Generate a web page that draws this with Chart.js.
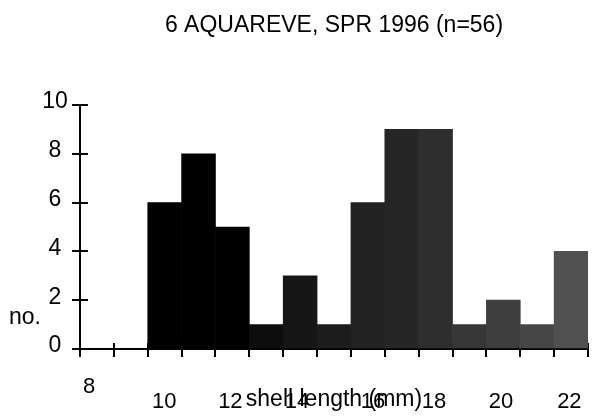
<!DOCTYPE html>
<html><head><meta charset="utf-8">
<script src="https://cdn.jsdelivr.net/npm/chart.js@4/dist/chart.umd.min.js"></script>
<style>html,body{margin:0;padding:0;background:#fff;} #wrap{width:592px;height:417px;position:relative;}</style>
</head><body><div id="wrap"><canvas id="c"></canvas></div>
<script>
// ---- data ----
const chartTitle = '6 AQUAREVE, SPR 1996 (n=56)';
const binStarts = [8, 9, 10, 11, 12, 13, 14, 15, 16, 17, 18, 19, 20, 21, 22]; // shell length bins (mm)
const counts    = [0, 0, 6, 8, 5, 1, 3, 1, 6, 9, 9, 1, 2, 1, 4];
const yTickValues = [0, 2, 4, 6, 8, 10];
const xTickLabels = ['8', '10', '12', '14', '16', '18', '20', '22'];
const xTickLabelValues = [8.27, 10.49, 12.44, 14.41, 16.65, 18.45, 20.43, 22.45];
const xTitle = 'shell length (mm)';
const yTitle = 'no.';
const yTitleValue = 1.27;

// ---- styles ----
const barColors = ['#000','#000','#000','#000','#000','#0d0d0d','#161616','#1c1c1c','#222222','#262626','#2e2e2e','#363636','#3e3e3e','#464646','#505050'];
const FONT = 'Liberation Sans';

const binEdges = binStarts.concat([binStarts[binStarts.length - 1] + 1]);
const xMin = binEdges[0], xMax = binEdges[binEdges.length - 1];

Chart.defaults.font.family = FONT;
Chart.defaults.color = '#000';

const noPad = s => { s.paddingLeft = 0; s.paddingRight = 0; };

new Chart(document.getElementById('c'), {
  type: 'bar',
  data: {
    datasets: [{
      data: binStarts.map((b, i) => ({ x: b + 0.5, y: counts[i] })),
      backgroundColor: barColors,
      borderWidth: 0,
      barPercentage: 1,
      categoryPercentage: 1,
      xAxisID: 'x',
      yAxisID: 'y'
    }]
  },
  options: {
    responsive: true,
    maintainAspectRatio: false,
    devicePixelRatio: 1,
    animation: false,
    layout: { autoPadding: false, padding: { left: 0, right: 4, top: 0, bottom: 0 } },
    plugins: {
      legend: { display: false },
      tooltip: { enabled: false },
      title: {
        display: true, text: chartTitle, fullSize: false, color: '#000',
        font: { size: 23, weight: 'normal' },
        padding: { top: 11.5, bottom: 65.9 }
      }
    },
    scales: {
      x: {
        type: 'linear', axis: 'x', position: 'bottom', weight: 0,
        min: xMin, max: xMax, offset: false,
        afterBuildTicks: s => { s.ticks = binEdges.map(v => ({ value: v })); },
        afterFit: noPad,
        ticks: { display: false },
        grid: { offset: false, drawOnChartArea: false, drawTicks: true, tickLength: 8, lineWidth: 2, color: '#000' },
        border: { display: true, color: '#000', width: 2 }
      },
      x2: {
        type: 'linear', axis: 'x', position: 'bottom', weight: 1,
        min: xMin, max: xMax, offset: false,
        afterBuildTicks: s => { s.ticks = xTickLabelValues.map(v => ({ value: v })); },
        afterFit: s => { s.height = 60; noPad(s); },
        ticks: {
          autoSkip: false, maxRotation: 0, minRotation: 0, padding: 22, color: '#000',
          font: { size: 22, lineHeight: 15 / 22 },
          callback: (v, i) => i === 0 ? xTickLabels[0] : ['', xTickLabels[i]]
        },
        grid: { display: false, drawTicks: false, offset: false },
        border: { display: false },
        title: { display: true, text: xTitle, color: '#000', font: { size: 23 }, padding: { top: 0, bottom: 3.2 } }
      },
      xin: {
        type: 'linear', axis: 'x', position: { y: 6 / 24.4 },
        min: xMin, max: xMax, offset: false,
        afterBuildTicks: s => { s.ticks = binEdges.map(v => ({ value: v })); },
        afterFit: noPad,
        ticks: { display: false },
        grid: { offset: false, drawOnChartArea: false, drawTicks: true, tickLength: 6, lineWidth: 2, color: '#000' },
        border: { display: false }
      },
      y: {
        type: 'linear', axis: 'y', position: 'left', weight: 0,
        min: 0, max: 10,
        afterBuildTicks: s => { s.ticks = yTickValues.map(v => ({ value: v })); },
        afterFit: s => { s.width = 37; },
        ticks: { crossAlign: 'center', padding: 4.2, labelOffset: -3, color: '#000', font: { size: 23 } },
        grid: { drawOnChartArea: false, drawTicks: true, tickLength: 8, lineWidth: 2, color: '#000' },
        border: { display: true, color: '#000', width: 2 }
      },
      yno: {
        type: 'linear', axis: 'y', position: 'left', weight: 1,
        min: 0, max: 10,
        afterBuildTicks: s => { s.ticks = [{ value: yTitleValue }]; },
        afterFit: s => { s.width = 43; },
        ticks: { padding: 2, color: '#000', font: { size: 23 }, callback: () => yTitle },
        grid: { display: false, drawTicks: false },
        border: { display: false }
      },
      yin: {
        type: 'linear', axis: 'y', position: { x: xMin + 8 / 33.87 },
        min: 0, max: 10,
        afterBuildTicks: s => { s.ticks = yTickValues.map(v => ({ value: v })); },
        ticks: { display: false },
        grid: { drawOnChartArea: false, drawTicks: true, tickLength: 8, lineWidth: 2, color: '#000' },
        border: { display: false }
      }
    }
  }
});
</script>
</body></html>
